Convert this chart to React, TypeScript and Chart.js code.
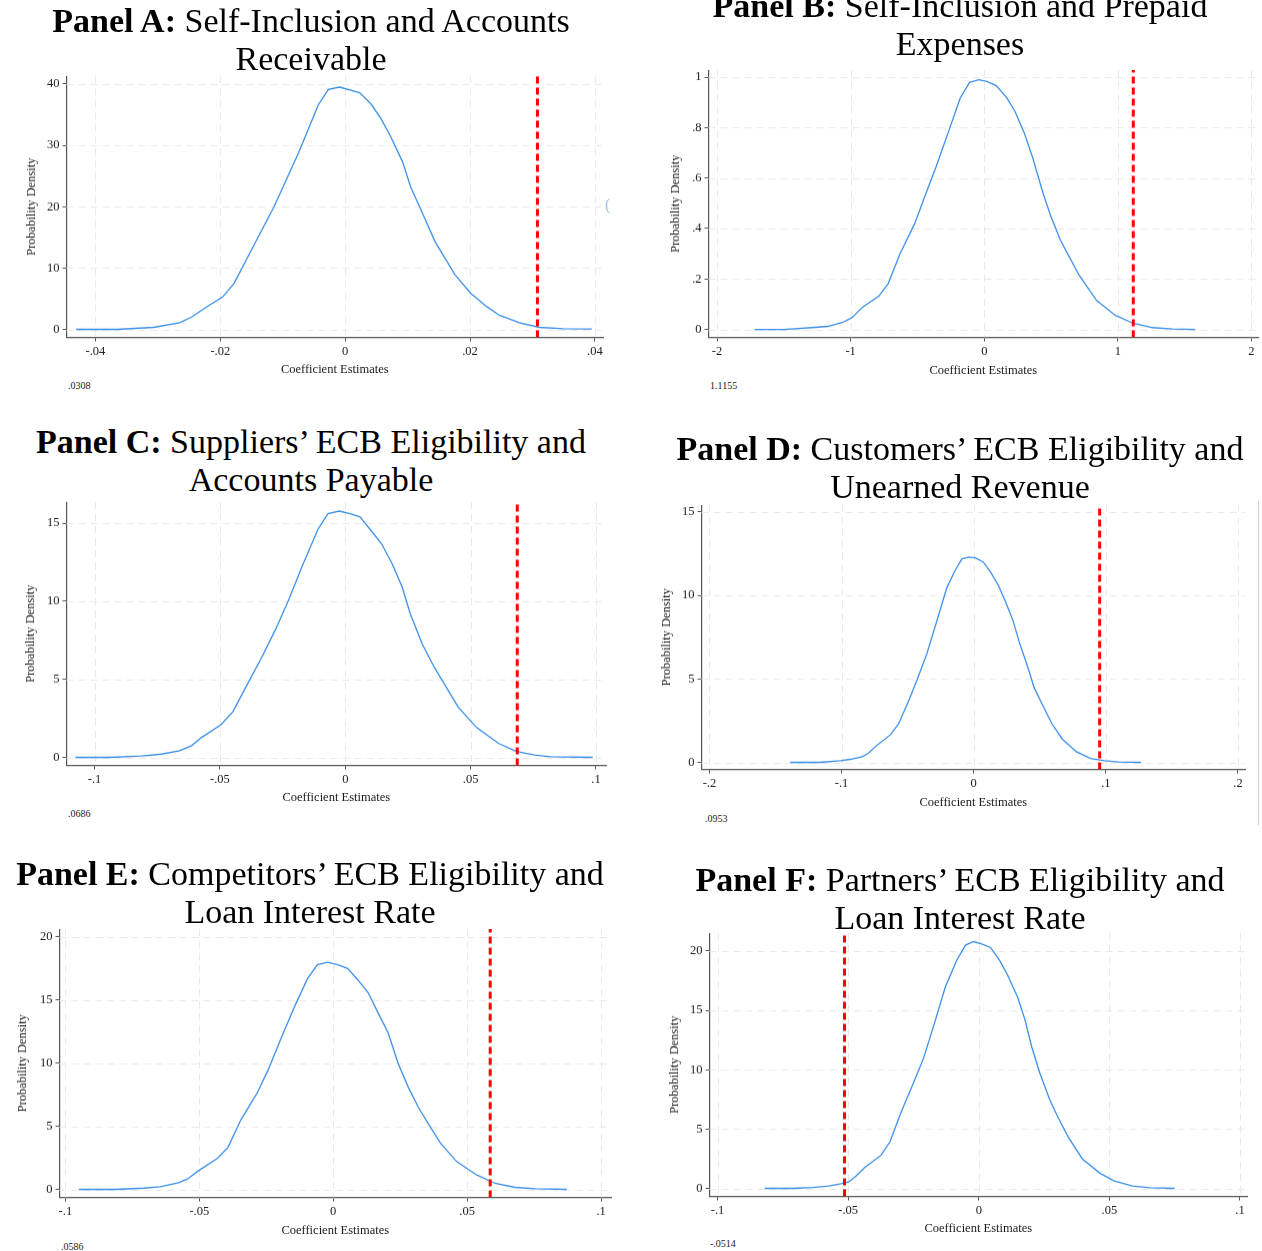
import React, { useEffect, useRef } from 'react';
import { Chart, registerables } from 'chart.js';
Chart.register(...registerables);

// ---------------- DATA ----------------
const panelA_x = [-0.0431,-0.0365,-0.0307,-0.0265,-0.0246,-0.0223,-0.0196,-0.0178,-0.0153,-0.0114,-0.0075,-0.0043,-0.0027,-0.0009,0.0023,0.0041,0.0057,0.0073,0.0092,0.0105,0.0124,0.0144,0.0176,0.0201,0.0227,0.0247,0.0279,0.0311,0.035,0.0395];
const panelA_y = [0,0,0.33,1.1,2.0,3.6,5.3,7.5,12.4,20,28.7,36.6,39.1,39.5,38.6,36.8,34.4,31.4,27.3,23.2,18.9,14.3,8.9,5.9,3.7,2.3,1.1,0.33,0.1,0.05];
const panelA_xticks = [-0.04,-0.02,0,0.02,0.04];
const panelA_yticks = [0,10,20,30,40];
const panelA_crit = 0.0308;

const panelB_x = [-1.72,-1.50,-1.29,-1.17,-1.06,-0.99,-0.91,-0.79,-0.72,-0.63,-0.52,-0.45,-0.36,-0.27,-0.18,-0.11,-0.04,0.02,0.09,0.17,0.23,0.30,0.36,0.44,0.50,0.57,0.63,0.71,0.84,0.98,1.11,1.26,1.41,1.58];
const panelB_y = [0,0,0.007,0.012,0.028,0.046,0.089,0.131,0.18,0.30,0.42,0.52,0.645,0.78,0.917,0.979,0.99,0.983,0.966,0.917,0.864,0.778,0.685,0.54,0.446,0.354,0.294,0.215,0.115,0.056,0.025,0.007,0.0013,0];
const panelB_xticks = [-2,-1,0,1,2];
const panelB_yticks = [0,0.2,0.4,0.6,0.8,1];
const panelB_crit = 1.1155;

const panelC_x = [-0.1077,-0.094,-0.0813,-0.0733,-0.0661,-0.0613,-0.0573,-0.0496,-0.0448,-0.0397,-0.0333,-0.0277,-0.0221,-0.0173,-0.0109,-0.0069,-0.0024,0.0019,0.0059,0.0099,0.0144,0.0187,0.0227,0.0259,0.0307,0.0355,0.0403,0.0451,0.0523,0.0611,0.0683,0.0755,0.0819,0.0987];
const panelC_y = [0,0,0.09,0.21,0.43,0.75,1.28,2.09,2.93,4.49,6.41,8.23,10.26,12.2,14.6,15.6,15.77,15.6,15.4,14.6,13.7,12.4,10.9,9.2,7.26,5.77,4.49,3.2,1.92,0.9,0.38,0.15,0.04,0];
const panelC_xticks = [-0.1,-0.05,0,0.05,0.1];
const panelC_yticks = [0,5,10,15];
const panelC_crit = 0.0686;

const panelD_x = [-0.1388,-0.1165,-0.101,-0.0936,-0.0844,-0.0798,-0.0737,-0.063,-0.0569,-0.0492,-0.0431,-0.0355,-0.0278,-0.0202,-0.0141,-0.0089,-0.0034,0.0012,0.0073,0.0128,0.0187,0.0242,0.0297,0.0349,0.041,0.0456,0.0517,0.0593,0.067,0.0777,0.0884,0.099,0.1098,0.1266];
const panelD_y = [0,0,0.1,0.18,0.34,0.54,1.0,1.66,2.3,3.7,4.9,6.5,8.5,10.5,11.5,12.2,12.3,12.26,12.0,11.4,10.6,9.6,8.5,7.1,5.7,4.5,3.5,2.3,1.4,0.64,0.24,0.1,0.02,0];
const panelD_xticks = [-0.2,-0.1,0,0.1,0.2];
const panelD_yticks = [0,5,10,15];
const panelD_crit = 0.0953;

const panelE_x = [-0.095,-0.0812,-0.0706,-0.0646,-0.0578,-0.0544,-0.0503,-0.0432,-0.0393,-0.0345,-0.0285,-0.0243,-0.0194,-0.0142,-0.0096,-0.0059,-0.0021,0.0017,0.0054,0.0092,0.013,0.0167,0.0205,0.0242,0.028,0.0318,0.0355,0.0401,0.0461,0.0536,0.0604,0.0679,0.0755,0.0872];
const panelE_y = [0,0,0.1,0.21,0.53,0.82,1.48,2.46,3.33,5.5,7.6,9.47,12.0,14.6,16.7,17.8,17.99,17.8,17.5,16.6,15.6,14.0,12.4,10.0,8.1,6.5,5.2,3.65,2.2,1.14,0.48,0.16,0.05,0];
const panelE_xticks = [-0.1,-0.05,0,0.05,0.1];
const panelE_yticks = [0,5,10,15,20];
const panelE_crit = 0.0586;

const panelF_x = [-0.082,-0.0713,-0.0636,-0.0574,-0.0528,-0.0497,-0.047,-0.0436,-0.0374,-0.034,-0.0297,-0.0251,-0.0212,-0.0174,-0.0128,-0.0085,-0.0051,-0.002,0.0011,0.0045,0.008,0.0111,0.0149,0.0177,0.0203,0.0234,0.0273,0.0303,0.0342,0.0396,0.0465,0.0519,0.0588,0.0657,0.075];
const panelF_y = [0,0,0.08,0.2,0.39,0.56,1.04,1.77,2.8,3.93,6.45,8.84,10.94,13.6,16.97,19.2,20.5,20.8,20.6,20.3,19.2,17.95,16.1,14.2,11.9,9.7,7.4,6.0,4.35,2.5,1.26,0.62,0.2,0.06,0];
const panelF_xticks = [-0.1,-0.05,0,0.05,0.1];
const panelF_yticks = [0,5,10,15,20];
const panelF_crit = -0.0514;

const panelLabels = ['Panel A:', 'Panel B:', 'Panel C:', 'Panel D:', 'Panel E:', 'Panel F:'];
const panelTitles = [
  ['Self-Inclusion and Accounts', 'Receivable'],
  ['Self-Inclusion and Prepaid', 'Expenses'],
  ['Suppliers\u2019 ECB Eligibility and', 'Accounts Payable'],
  ['Customers\u2019 ECB Eligibility and', 'Unearned Revenue'],
  ['Competitors\u2019 ECB Eligibility and', 'Loan Interest Rate'],
  ['Partners\u2019 ECB Eligibility and', 'Loan Interest Rate'],
];
const critLabels = ['.0308', '1.1155', '.0686', '.0953', '.0586', '-.0514'];
const xAxisTitle = 'Coefficient Estimates';
const yAxisTitle = 'Probability Density';

// ---------------- LAYOUT ----------------
type Geo = { axisX: number; plotTop: number; plotRight: number; axisY: number; xmin: number; xmax: number; ymin: number; ymax: number; yTitleX: number; xTitleY: number; titleCX: number; titleBase: number; critX: number; critBase: number };
const geos: Geo[] = [
  { axisX: 66, plotTop: 76, plotRight: 603, axisY: 337, xmin: -0.04464, xmax: 0.0413, ymin: -1.306, ymax: 41.3, yTitleX: 31, xTitleY: 369, titleCX: 311, titleBase: 32, critX: 68, critBase: 389 },
  { axisX: 708, plotTop: 70, plotRight: 1258, axisY: 337, xmin: -2.064, xmax: 2.049, ymin: -0.0317, ymax: 1.028, yTitleX: 675, xTitleY: 370, titleCX: 960, titleBase: 17, critX: 710, critBase: 389 },
  { axisX: 66, plotTop: 502, plotRight: 606, axisY: 765, xmin: -0.1112, xmax: 0.104, ymin: -0.513, ymax: 16.35, yTitleX: 30, xTitleY: 797, titleCX: 311, titleBase: 453, critX: 68, critBase: 817 },
  { axisX: 701, plotTop: 505, plotRight: 1245, axisY: 769, xmin: -0.206, xmax: 0.2053, ymin: -0.42, ymax: 15.42, yTitleX: 666, xTitleY: 802, titleCX: 960, titleBase: 460, critX: 705, critBase: 822 },
  { axisX: 59, plotTop: 929, plotRight: 611, axisY: 1197, xmin: -0.1022, xmax: 0.1037, ymin: -0.635, ymax: 20.63, yTitleX: 22, xTitleY: 1230, titleCX: 310, titleBase: 885, critX: 61, critBase: 1250 },
  { axisX: 709, plotTop: 933, plotRight: 1247, axisY: 1196, xmin: -0.1031, xmax: 0.1027, ymin: -0.675, ymax: 21.52, yTitleX: 674, xTitleY: 1228, titleCX: 960, titleBase: 891, critX: 710, critBase: 1247 },
];

const series = [
  { xs: panelA_x, ys: panelA_y, xt: panelA_xticks, yt: panelA_yticks, crit: panelA_crit },
  { xs: panelB_x, ys: panelB_y, xt: panelB_xticks, yt: panelB_yticks, crit: panelB_crit },
  { xs: panelC_x, ys: panelC_y, xt: panelC_xticks, yt: panelC_yticks, crit: panelC_crit },
  { xs: panelD_x, ys: panelD_y, xt: panelD_xticks, yt: panelD_yticks, crit: panelD_crit },
  { xs: panelE_x, ys: panelE_y, xt: panelE_xticks, yt: panelE_yticks, crit: panelE_crit },
  { xs: panelF_x, ys: panelF_y, xt: panelF_xticks, yt: panelF_yticks, crit: panelF_crit },
];

const SERIF = '"Liberation Serif", "Times New Roman", serif';
const PADR = 12;
const TITLE_LH = 15; // 12.5px * 1.2

function stataLabel(v: number): string {
  if (Math.abs(v) < 1e-12) return '0';
  let s = String(parseFloat(v.toFixed(6)));
  s = s.replace(/^(-?)0\./, '$1.');
  return s;
}

const gridPlugin = {
  id: 'stataGrid',
  beforeDatasetsDraw(chart: any, _args: any, opts: any) {
    const { ctx, chartArea } = chart;
    const xs = chart.scales.x;
    const ys = chart.scales.y;
    ctx.save();
    ctx.strokeStyle = '#e9e9e9';
    ctx.lineWidth = 1;
    ctx.setLineDash([7, 5]);
    (opts.xt || []).forEach((v: number) => {
      const px = Math.round(xs.getPixelForValue(v)) + 0.5;
      ctx.beginPath();
      ctx.moveTo(px, chartArea.top);
      ctx.lineTo(px, chartArea.bottom);
      ctx.stroke();
    });
    (opts.yt || []).forEach((v: number) => {
      const py = Math.round(ys.getPixelForValue(v)) + 0.5;
      ctx.beginPath();
      ctx.moveTo(chartArea.left, py);
      ctx.lineTo(chartArea.right, py);
      ctx.stroke();
    });
    ctx.restore();
  },
};

function Panel({ idx }: { idx: number }) {
  const ref = useRef<HTMLCanvasElement>(null);
  const g = geos[idx];
  const s = series[idx];
  const Wy = g.axisX - (g.yTitleX - TITLE_LH / 2);
  const Hx = g.xTitleY - g.axisY + TITLE_LH / 2;
  const left = g.axisX - Wy;
  const top = g.plotTop;
  const width = g.plotRight - g.axisX + Wy + PADR;
  const height = g.axisY - g.plotTop + Hx;

  useEffect(() => {
    if (!ref.current) return;
    const tickFont = { family: SERIF, size: 12.5 };
    const titleFont = { family: SERIF, size: 12.5 };
    const chart = new Chart(ref.current, {
      type: 'line',
      data: {
        datasets: [
          {
            data: [{ x: s.crit, y: g.ymin }, { x: s.crit, y: g.ymax }],
            borderColor: '#ff0000',
            borderWidth: 3,
            borderDash: [7, 4],
            pointRadius: 0,
            fill: false,
          } as any,
          {
            data: s.xs.map((x, i) => ({ x, y: s.ys[i] })),
            borderColor: '#3a8ee8',
            borderWidth: 1.3,
            pointRadius: 0,
            tension: 0,
            fill: false,
          } as any,
        ],
      },
      options: {
        responsive: false,
        animation: false,
        devicePixelRatio: 1,
        layout: { padding: { left: 0, top: 0, right: PADR, bottom: 0 } },
        plugins: {
          legend: { display: false },
          tooltip: { enabled: false },
          stataGrid: { xt: s.xt, yt: s.yt },
        } as any,
        scales: {
          x: {
            type: 'linear',
            min: g.xmin,
            max: g.xmax,
            afterBuildTicks: (sc: any) => { sc.ticks = s.xt.map((v) => ({ value: v })); },
            afterFit: (sc: any) => { sc.height = Hx; sc.paddingLeft = 0; sc.paddingRight = 0; },
            ticks: { callback: (v: any) => stataLabel(Number(v)), font: tickFont, color: '#1a1a1a', padding: 3, maxRotation: 0, autoSkip: false },
            grid: { drawOnChartArea: false, drawTicks: true, tickLength: 4, tickColor: '#555', tickWidth: 1 },
            border: { color: '#555', width: 1.2 },
            title: { display: true, text: xAxisTitle, font: titleFont, color: '#1a1a1a', padding: 0 },
          },
          y: {
            type: 'linear',
            min: g.ymin,
            max: g.ymax,
            afterBuildTicks: (sc: any) => { sc.ticks = s.yt.map((v) => ({ value: v })); },
            afterFit: (sc: any) => { sc.width = Wy; sc.paddingTop = 0; sc.paddingBottom = 0; },
            ticks: { callback: (v: any) => stataLabel(Number(v)), font: tickFont, color: '#1a1a1a', padding: 3, autoSkip: false },
            grid: { drawOnChartArea: false, drawTicks: true, tickLength: 4, tickColor: '#555', tickWidth: 1 },
            border: { color: '#555', width: 1.2 },
            title: { display: true, text: yAxisTitle, font: titleFont, color: '#1a1a1a', padding: 0 },
          },
        },
      } as any,
      plugins: [gridPlugin],
    });
    return () => chart.destroy();
  }, []);

  return (
    <canvas
      ref={ref}
      width={width}
      height={height}
      style={{ position: 'absolute', left, top, width, height }}
    />
  );
}

function Titles() {
  return (
    <>
      {geos.map((g, i) => (
        <div
          key={'t' + i}
          style={{
            position: 'absolute',
            left: g.titleCX - 400,
            width: 800,
            top: g.titleBase - 30.5,
            textAlign: 'center',
            fontFamily: SERIF,
            fontSize: 34,
            lineHeight: '38.5px',
            color: '#000',
            whiteSpace: 'nowrap',
          }}
        >
          <b>{panelLabels[i]}</b> {panelTitles[i][0]}
          <br />
          {panelTitles[i][1]}
        </div>
      ))}
      {geos.map((g, i) => (
        <div
          key={'c' + i}
          style={{
            position: 'absolute',
            left: g.critX,
            top: g.critBase - 8.4,
            fontFamily: SERIF,
            fontSize: 10,
            lineHeight: '10px',
            color: '#222',
            whiteSpace: 'nowrap',
          }}
        >
          {critLabels[i]}
        </div>
      ))}
    </>
  );
}

export default function App() {
  return (
    <div style={{ position: 'absolute', left: 0, top: 0, width: 1262, height: 1251, background: '#fff', overflow: 'hidden' }}>
      {geos.map((_, i) => <Panel key={i} idx={i} />)}
      <Titles />
      <div style={{ position: 'absolute', left: 605, top: 197, fontFamily: SERIF, fontSize: 16, lineHeight: '16px', color: '#9cc9ea' }}>(</div>
      <div style={{ position: 'absolute', left: 1258, top: 501, width: 1, height: 324, background: '#cfcfcf' }} />
    </div>
  );
}
